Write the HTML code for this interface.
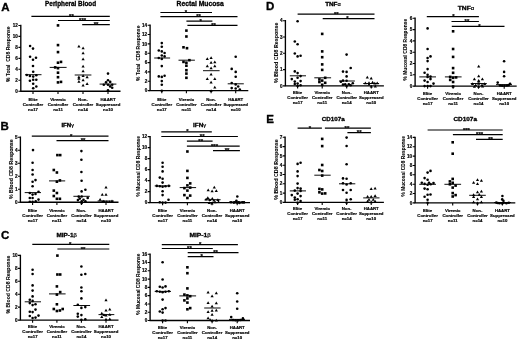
<!DOCTYPE html>
<html><head><meta charset="utf-8"><title>Figure</title>
<style>
html,body{margin:0;padding:0;background:#fff;}
body{width:520px;height:341px;overflow:hidden;}
svg{display:block;filter:blur(0.28px);}
svg text{font-family:"Liberation Sans",sans-serif;font-weight:bold;fill:#000;stroke:#000;stroke-width:0.18px;}
svg text.T,svg text.L{stroke-width:0.3px;}
svg text .G{font-weight:normal;stroke-width:0.2px;font-size:0.9em;}
svg text.Y{stroke-width:0.08px;}
</style></head><body>
<svg width="520" height="341" viewBox="0 0 520 341">
<rect x="-5" y="-5" width="530" height="351" fill="#fff"/>
<path d="M20.8 24.75V91.25H120.5" fill="none" stroke="#000" stroke-width="1.35" stroke-linejoin="miter"/>
<text x="17.9" y="92.91" font-size="4.6" text-anchor="end">0</text>
<text x="17.9" y="81.94" font-size="4.6" text-anchor="end">2</text>
<text x="17.9" y="70.97" font-size="4.6" text-anchor="end">4</text>
<text x="17.9" y="60" font-size="4.6" text-anchor="end">6</text>
<text x="17.9" y="49.03" font-size="4.6" text-anchor="end">8</text>
<text x="17.9" y="38.06" font-size="4.6" text-anchor="end">10</text>
<text x="17.9" y="27.09" font-size="4.6" text-anchor="end">12</text>
<path d="M18.4 91.25H20.8M18.4 80.28H20.8M18.4 69.31H20.8M18.4 58.34H20.8M18.4 47.37H20.8M18.4 36.4H20.8M18.4 25.43H20.8M33 91.25V93.92M58 91.25V93.92M83 91.25V93.92M108 91.25V93.92" stroke="#000" stroke-width="1.1" fill="none"/>
<text transform="translate(8 54.2) rotate(-90)" class="Y" font-size="6.2" text-anchor="middle" y="2.23" textLength="55.7" lengthAdjust="spacingAndGlyphs" xml:space="preserve">% Total  CD8 Response</text>
<text class="T" x="70.6" y="6.4" font-size="6.53" text-anchor="middle" textLength="51" lengthAdjust="spacingAndGlyphs">Peripheral Blood</text>
<text class="L" transform="translate(1.2 10.6) scale(1.12 1)" font-size="10.3">A</text>
<text x="33" y="100.6" font-size="4.3" text-anchor="middle">Elite</text>
<text x="33" y="105.6" font-size="4.3" text-anchor="middle">Controller</text>
<text x="33" y="110.7" font-size="4.3" text-anchor="middle">n=17</text>
<text x="58" y="100.6" font-size="4.3" text-anchor="middle">Viremic</text>
<text x="58" y="105.6" font-size="4.3" text-anchor="middle">Controller</text>
<text x="58" y="110.7" font-size="4.3" text-anchor="middle">n=11</text>
<text x="83" y="100.6" font-size="4.3" text-anchor="middle">Non-</text>
<text x="83" y="105.6" font-size="4.3" text-anchor="middle">Controller</text>
<text x="83" y="110.7" font-size="4.3" text-anchor="middle">n=14</text>
<text x="108" y="100.6" font-size="4.3" text-anchor="middle">HAART</text>
<text x="108" y="105.6" font-size="4.3" text-anchor="middle">Suppressed</text>
<text x="108" y="110.7" font-size="4.3" text-anchor="middle">n=10</text>
<path d="M25.1 74.7H41.5M49.7 67.4H66.6M74.7 75H91.4M99.6 84.1H116.4" stroke="#000" stroke-width="0.95" fill="none"/>
<path d="M31.4 16.4H109.8M58 20.5H109.8M82.2 24.7H109.8" stroke="#000" stroke-width="1.2" fill="none"/>
<text x="71.4" y="18" font-size="6.0" text-anchor="middle">**</text>
<text x="82.6" y="22.1" font-size="6.0" text-anchor="middle">***</text>
<text x="96" y="26.3" font-size="6.0" text-anchor="middle">**</text>
<circle cx="30.1" cy="46" r="1.3"/>
<circle cx="33" cy="48.6" r="1.3"/>
<circle cx="30.1" cy="56.8" r="1.3"/>
<circle cx="36" cy="57.7" r="1.3"/>
<circle cx="33" cy="59.7" r="1.3"/>
<circle cx="33" cy="66" r="1.3"/>
<circle cx="33.2" cy="71.7" r="1.3"/>
<circle cx="26.8" cy="75" r="1.3"/>
<circle cx="29.9" cy="76" r="1.3"/>
<circle cx="36.3" cy="75.2" r="1.3"/>
<circle cx="33.2" cy="76.6" r="1.3"/>
<circle cx="29.9" cy="80.8" r="1.3"/>
<circle cx="33.2" cy="79.8" r="1.3"/>
<circle cx="36.3" cy="79.8" r="1.3"/>
<circle cx="33.2" cy="83.7" r="1.3"/>
<circle cx="36.3" cy="86.5" r="1.3"/>
<circle cx="33.2" cy="88.3" r="1.3"/>
<rect x="56.7" y="24.1" width="2.6" height="2.6"/>
<rect x="56.7" y="43.8" width="2.6" height="2.6"/>
<rect x="56.7" y="50.8" width="2.6" height="2.6"/>
<rect x="56.7" y="61.4" width="2.6" height="2.6"/>
<rect x="59.7" y="60.6" width="2.6" height="2.6"/>
<rect x="53.9" y="66.1" width="2.6" height="2.6"/>
<rect x="56.7" y="66.9" width="2.6" height="2.6"/>
<rect x="56.7" y="71.4" width="2.6" height="2.6"/>
<rect x="56.7" y="75.9" width="2.6" height="2.6"/>
<rect x="56.7" y="81.1" width="2.6" height="2.6"/>
<rect x="59.7" y="80.6" width="2.6" height="2.6"/>
<path d="M78.9 44.74L80.5 47.51H77.3Z"/>
<path d="M83.1 46.44L84.7 49.21H81.5Z"/>
<path d="M83.1 51.44L84.7 54.21H81.5Z"/>
<path d="M83.1 57.54L84.7 60.31H81.5Z"/>
<path d="M83.1 64.74L84.7 67.51H81.5Z"/>
<path d="M83.1 69.44L84.7 72.21H81.5Z"/>
<path d="M78.9 75.44L80.5 78.21H77.3Z"/>
<path d="M83.1 74.24L84.7 77.01H81.5Z"/>
<path d="M87.1 75.44L88.7 78.21H85.5Z"/>
<path d="M83.1 78.54L84.7 81.31H81.5Z"/>
<path d="M78.9 80.04L80.5 82.81H77.3Z"/>
<path d="M87.1 82.14L88.7 84.91H85.5Z"/>
<path d="M83.1 83.74L84.7 86.51H81.5Z"/>
<path d="M78.9 76.94L80.5 79.71H77.3Z"/>
<circle cx="108" cy="73.6" r="1.3"/>
<circle cx="108" cy="80.2" r="1.3"/>
<circle cx="106" cy="82.4" r="1.3"/>
<circle cx="110.2" cy="81.9" r="1.3"/>
<circle cx="103.8" cy="84.8" r="1.3"/>
<circle cx="108" cy="84.8" r="1.3"/>
<circle cx="112.2" cy="84.8" r="1.3"/>
<circle cx="110.2" cy="86.4" r="1.3"/>
<circle cx="112.2" cy="87.8" r="1.3"/>
<circle cx="108" cy="90.3" r="1.3"/>
<path d="M150.1 24.54V90.6H248.3" fill="none" stroke="#000" stroke-width="1.35" stroke-linejoin="miter"/>
<text x="147.2" y="92.26" font-size="4.6" text-anchor="end">0</text>
<text x="147.2" y="82.92" font-size="4.6" text-anchor="end">2</text>
<text x="147.2" y="73.58" font-size="4.6" text-anchor="end">4</text>
<text x="147.2" y="64.24" font-size="4.6" text-anchor="end">6</text>
<text x="147.2" y="54.9" font-size="4.6" text-anchor="end">8</text>
<text x="147.2" y="45.56" font-size="4.6" text-anchor="end">10</text>
<text x="147.2" y="36.22" font-size="4.6" text-anchor="end">12</text>
<text x="147.2" y="26.88" font-size="4.6" text-anchor="end">14</text>
<path d="M147.7 90.6H150.1M147.7 81.26H150.1M147.7 71.92H150.1M147.7 62.58H150.1M147.7 53.24H150.1M147.7 43.9H150.1M147.7 34.56H150.1M147.7 25.22H150.1M161.8 90.6V93.27M186.4 90.6V93.27M211.1 90.6V93.27M235.7 90.6V93.27" stroke="#000" stroke-width="1.1" fill="none"/>
<text transform="translate(137.3 53.3) rotate(-90)" class="Y" font-size="6.2" text-anchor="middle" y="2.23" textLength="55.4" lengthAdjust="spacingAndGlyphs" xml:space="preserve">% Total  CD8 Response</text>
<text class="T" x="200.2" y="6.4" font-size="6.72" text-anchor="middle" textLength="47.4" lengthAdjust="spacingAndGlyphs">Rectal Mucosa</text>
<text x="161.8" y="100.55" font-size="4.3" text-anchor="middle">Elite</text>
<text x="161.8" y="105.55" font-size="4.3" text-anchor="middle">Controller</text>
<text x="161.8" y="110.65" font-size="4.3" text-anchor="middle">n=17</text>
<text x="186.4" y="100.55" font-size="4.3" text-anchor="middle">Viremic</text>
<text x="186.4" y="105.55" font-size="4.3" text-anchor="middle">Controller</text>
<text x="186.4" y="110.65" font-size="4.3" text-anchor="middle">n=11</text>
<text x="211.1" y="100.55" font-size="4.3" text-anchor="middle">Non-</text>
<text x="211.1" y="105.55" font-size="4.3" text-anchor="middle">Controller</text>
<text x="211.1" y="110.65" font-size="4.3" text-anchor="middle">n=14</text>
<text x="235.7" y="100.55" font-size="4.3" text-anchor="middle">HAART</text>
<text x="235.7" y="105.55" font-size="4.3" text-anchor="middle">Suppressed</text>
<text x="235.7" y="110.65" font-size="4.3" text-anchor="middle">n=10</text>
<path d="M154.2 58H170.1M178.5 60.2H194.9M203 70.7H219.6M227.7 83.8H243.8" stroke="#000" stroke-width="0.95" fill="none"/>
<path d="M160.4 12.5H212M160.4 16.7H237.5M186.4 21.2H212.4M187.4 25.4H237.5" stroke="#000" stroke-width="1.2" fill="none"/>
<text x="186" y="14.1" font-size="6.0" text-anchor="middle">*</text>
<text x="198.6" y="18.3" font-size="6.0" text-anchor="middle">**</text>
<text x="200.6" y="22.8" font-size="6.0" text-anchor="middle">*</text>
<text x="213.6" y="27" font-size="6.0" text-anchor="middle">**</text>
<circle cx="161.8" cy="43.1" r="1.3"/>
<circle cx="161.8" cy="46.8" r="1.3"/>
<circle cx="158.8" cy="50.5" r="1.3"/>
<circle cx="161.8" cy="51.4" r="1.3"/>
<circle cx="164.6" cy="53" r="1.3"/>
<circle cx="161.8" cy="55.5" r="1.3"/>
<circle cx="164.6" cy="56.4" r="1.3"/>
<circle cx="158.8" cy="58" r="1.3"/>
<circle cx="161.8" cy="58.9" r="1.3"/>
<circle cx="161.8" cy="66.1" r="1.3"/>
<circle cx="158.8" cy="76.4" r="1.3"/>
<circle cx="161.8" cy="76.9" r="1.3"/>
<circle cx="164.6" cy="75.8" r="1.3"/>
<circle cx="161.8" cy="81.1" r="1.3"/>
<circle cx="161.8" cy="84.8" r="1.3"/>
<circle cx="161.8" cy="90.8" r="1.3"/>
<rect x="185.1" y="29.3" width="2.6" height="2.6"/>
<rect x="185.1" y="35.2" width="2.6" height="2.6"/>
<rect x="182.2" y="46" width="2.6" height="2.6"/>
<rect x="185.7" y="46.9" width="2.6" height="2.6"/>
<rect x="188.1" y="58.9" width="2.6" height="2.6"/>
<rect x="182.2" y="60.6" width="2.6" height="2.6"/>
<rect x="185.1" y="61.4" width="2.6" height="2.6"/>
<rect x="185.1" y="64.4" width="2.6" height="2.6"/>
<rect x="185.1" y="68.9" width="2.6" height="2.6"/>
<rect x="185.1" y="72.3" width="2.6" height="2.6"/>
<rect x="185.1" y="76.5" width="2.6" height="2.6"/>
<path d="M207.3 57.34L208.9 60.11H205.7Z"/>
<path d="M211.1 56.34L212.7 59.11H209.5Z"/>
<path d="M211.1 61.04L212.7 63.81H209.5Z"/>
<path d="M214.8 60.54L216.4 63.31H213.2Z"/>
<path d="M207.3 64.44L208.9 67.21H205.7Z"/>
<path d="M214.8 64.44L216.4 67.21H213.2Z"/>
<path d="M211.1 66.44L212.7 69.21H209.5Z"/>
<path d="M211.1 72.74L212.7 75.51H209.5Z"/>
<path d="M207.3 77.34L208.9 80.11H205.7Z"/>
<path d="M214.8 77.34L216.4 80.11H213.2Z"/>
<path d="M211.1 80.84L212.7 83.61H209.5Z"/>
<path d="M214.8 85.84L216.4 88.61H213.2Z"/>
<path d="M211.1 89.14L212.7 91.91H209.5Z"/>
<circle cx="235.7" cy="56.7" r="1.3"/>
<circle cx="231.7" cy="68.9" r="1.3"/>
<circle cx="235.7" cy="71.9" r="1.3"/>
<circle cx="235.7" cy="76.8" r="1.3"/>
<circle cx="231.7" cy="83" r="1.3"/>
<circle cx="235.7" cy="84.4" r="1.3"/>
<circle cx="238.2" cy="86.5" r="1.3"/>
<circle cx="231.7" cy="88.1" r="1.3"/>
<circle cx="235.7" cy="88.5" r="1.3"/>
<circle cx="239.8" cy="89.5" r="1.3"/>
<path d="M20.4 136.52V202.2H118.5" fill="none" stroke="#000" stroke-width="1.35" stroke-linejoin="miter"/>
<text x="17.5" y="203.86" font-size="4.6" text-anchor="end">0</text>
<text x="17.5" y="190.86" font-size="4.6" text-anchor="end">1</text>
<text x="17.5" y="177.86" font-size="4.6" text-anchor="end">2</text>
<text x="17.5" y="164.86" font-size="4.6" text-anchor="end">3</text>
<text x="17.5" y="151.86" font-size="4.6" text-anchor="end">4</text>
<text x="17.5" y="138.86" font-size="4.6" text-anchor="end">5</text>
<path d="M18 202.2H20.4M18 189.2H20.4M18 176.2H20.4M18 163.2H20.4M18 150.2H20.4M18 137.2H20.4M32.6 202.2V204.88M56.9 202.2V204.88M81.4 202.2V204.88M106 202.2V204.88" stroke="#000" stroke-width="1.1" fill="none"/>
<text transform="translate(10.6 169.2) rotate(-90)" class="Y" font-size="6.2" text-anchor="middle" y="2.23" textLength="59.7" lengthAdjust="spacingAndGlyphs" xml:space="preserve">% Blood CD8 Response</text>
<text class="T" x="67.7" y="127.2" font-size="5.15" text-anchor="middle" textLength="12.5" lengthAdjust="spacingAndGlyphs">IFN<tspan class="G">γ</tspan></text>
<text class="L" transform="translate(0.6 130.2) scale(1.12 1)" font-size="10.3">B</text>
<text x="32.6" y="211.55" font-size="4.3" text-anchor="middle">Elite</text>
<text x="32.6" y="216.55" font-size="4.3" text-anchor="middle">Controller</text>
<text x="32.6" y="221.65" font-size="4.3" text-anchor="middle">n=17</text>
<text x="56.9" y="211.55" font-size="4.3" text-anchor="middle">Viremic</text>
<text x="56.9" y="216.55" font-size="4.3" text-anchor="middle">Controller</text>
<text x="56.9" y="221.65" font-size="4.3" text-anchor="middle">n=11</text>
<text x="81.4" y="211.55" font-size="4.3" text-anchor="middle">Non-</text>
<text x="81.4" y="216.55" font-size="4.3" text-anchor="middle">Controller</text>
<text x="81.4" y="221.65" font-size="4.3" text-anchor="middle">n=14</text>
<text x="106" y="211.55" font-size="4.3" text-anchor="middle">HAART</text>
<text x="106" y="216.55" font-size="4.3" text-anchor="middle">Suppressed</text>
<text x="106" y="221.65" font-size="4.3" text-anchor="middle">n=10</text>
<path d="M24.7 192.6H41M49 180.9H65.2M73.4 196.3H89.8M97.6 201H113.8" stroke="#000" stroke-width="0.95" fill="none"/>
<path d="M31.8 136.1H108.5M56.5 140.6H108.5" stroke="#000" stroke-width="1.2" fill="none"/>
<text x="71.1" y="137.7" font-size="6.0" text-anchor="middle">*</text>
<text x="83.1" y="142.2" font-size="6.0" text-anchor="middle">**</text>
<circle cx="33" cy="150.1" r="1.3"/>
<circle cx="32.6" cy="162.8" r="1.3"/>
<circle cx="32.6" cy="170" r="1.3"/>
<circle cx="32.6" cy="174.5" r="1.3"/>
<circle cx="35.5" cy="180.1" r="1.3"/>
<circle cx="32.6" cy="181.7" r="1.3"/>
<circle cx="32.6" cy="186.3" r="1.3"/>
<circle cx="38.5" cy="191.8" r="1.3"/>
<circle cx="29.8" cy="193" r="1.3"/>
<circle cx="32.6" cy="194.6" r="1.3"/>
<circle cx="35.5" cy="194" r="1.3"/>
<circle cx="29.8" cy="198" r="1.3"/>
<circle cx="32.6" cy="198" r="1.3"/>
<circle cx="38.5" cy="199.6" r="1.3"/>
<circle cx="35.7" cy="201.4" r="1.3"/>
<circle cx="29.8" cy="201.8" r="1.3"/>
<circle cx="32.6" cy="201.8" r="1.3"/>
<rect x="56.1" y="153.8" width="2.6" height="2.6"/>
<rect x="58.9" y="153.8" width="2.6" height="2.6"/>
<rect x="52.5" y="168.7" width="2.6" height="2.6"/>
<rect x="55.6" y="171.2" width="2.6" height="2.6"/>
<rect x="58.6" y="179.1" width="2.6" height="2.6"/>
<rect x="55.6" y="180.4" width="2.6" height="2.6"/>
<rect x="52.5" y="189.3" width="2.6" height="2.6"/>
<rect x="55.6" y="191.7" width="2.6" height="2.6"/>
<rect x="52.5" y="194.7" width="2.6" height="2.6"/>
<rect x="55.6" y="197.5" width="2.6" height="2.6"/>
<rect x="58.6" y="197.5" width="2.6" height="2.6"/>
<circle cx="81.4" cy="151.1" r="1.3"/>
<circle cx="81.4" cy="159.8" r="1.3"/>
<circle cx="81.4" cy="172" r="1.3"/>
<circle cx="81.6" cy="180.8" r="1.3"/>
<circle cx="81.6" cy="191.4" r="1.3"/>
<circle cx="85.4" cy="189.8" r="1.3"/>
<circle cx="78.7" cy="196.6" r="1.3"/>
<circle cx="81.7" cy="196.5" r="1.3"/>
<circle cx="87.7" cy="197.9" r="1.3"/>
<circle cx="79.8" cy="198.6" r="1.3"/>
<circle cx="77.9" cy="200.1" r="1.3"/>
<circle cx="83.5" cy="199.8" r="1.3"/>
<circle cx="85.4" cy="201.2" r="1.3"/>
<circle cx="81.7" cy="201.4" r="1.3"/>
<circle cx="81.7" cy="203.1" r="1.3"/>
<path d="M106 185.64L107.6 188.41H104.4Z"/>
<path d="M102.3 192.94L103.9 195.71H100.7Z"/>
<path d="M106 192.94L107.6 195.71H104.4Z"/>
<path d="M100.1 198.04L101.7 200.81H98.5Z"/>
<path d="M102.3 200.14L103.9 202.91H100.7Z"/>
<path d="M104.7 200.14L106.3 202.91H103.1Z"/>
<path d="M106.8 200.14L108.4 202.91H105.2Z"/>
<path d="M109.4 200.14L111 202.91H107.8Z"/>
<path d="M112 199.54L113.6 202.31H110.4Z"/>
<path d="M103.5 199.74L105.1 202.51H101.9Z"/>
<path d="M150.1 135.92V202.6H250" fill="none" stroke="#000" stroke-width="1.35" stroke-linejoin="miter"/>
<text x="147.2" y="204.26" font-size="4.6" text-anchor="end">0</text>
<text x="147.2" y="193.26" font-size="4.6" text-anchor="end">2</text>
<text x="147.2" y="182.26" font-size="4.6" text-anchor="end">4</text>
<text x="147.2" y="171.26" font-size="4.6" text-anchor="end">6</text>
<text x="147.2" y="160.26" font-size="4.6" text-anchor="end">8</text>
<text x="147.2" y="149.26" font-size="4.6" text-anchor="end">10</text>
<text x="147.2" y="138.26" font-size="4.6" text-anchor="end">12</text>
<path d="M147.7 202.6H150.1M147.7 191.6H150.1M147.7 180.6H150.1M147.7 169.6H150.1M147.7 158.6H150.1M147.7 147.6H150.1M147.7 136.6H150.1M162.6 202.6V205.28M187.4 202.6V205.28M212 202.6V205.28M237.2 202.6V205.28" stroke="#000" stroke-width="1.1" fill="none"/>
<text transform="translate(137.6 166.3) rotate(-90)" class="Y" font-size="6.2" text-anchor="middle" y="2.23" textLength="60.4" lengthAdjust="spacingAndGlyphs" xml:space="preserve">% Mucosal CD8 Response</text>
<text class="T" x="199.6" y="126.6" font-size="6.07" text-anchor="middle" textLength="13.3" lengthAdjust="spacingAndGlyphs">IFN<tspan class="G">γ</tspan></text>
<text x="162.6" y="211.6" font-size="4.3" text-anchor="middle">Elite</text>
<text x="162.6" y="216.6" font-size="4.3" text-anchor="middle">Controller</text>
<text x="162.6" y="221.7" font-size="4.3" text-anchor="middle">n=17</text>
<text x="187.4" y="211.6" font-size="4.3" text-anchor="middle">Viremic</text>
<text x="187.4" y="216.6" font-size="4.3" text-anchor="middle">Controller</text>
<text x="187.4" y="221.7" font-size="4.3" text-anchor="middle">n=11</text>
<text x="212" y="211.6" font-size="4.3" text-anchor="middle">Non-</text>
<text x="212" y="216.6" font-size="4.3" text-anchor="middle">Controller</text>
<text x="212" y="221.7" font-size="4.3" text-anchor="middle">n=14</text>
<text x="237.2" y="211.6" font-size="4.3" text-anchor="middle">HAART</text>
<text x="237.2" y="216.6" font-size="4.3" text-anchor="middle">Suppressed</text>
<text x="237.2" y="221.7" font-size="4.3" text-anchor="middle">n=10</text>
<path d="M154.7 185.9H170.6M179.7 187.6H196.1M204.7 199.7H220.6M229 202H245" stroke="#000" stroke-width="0.95" fill="none"/>
<path d="M161.3 131.8H211.8M161.3 136.5H237.9M186.9 141.2H212.6M186.9 146.2H239.7M213 150.7H239.9" stroke="#000" stroke-width="1.2" fill="none"/>
<text x="187.4" y="133.4" font-size="6.0" text-anchor="middle">*</text>
<text x="202.2" y="138.1" font-size="6.0" text-anchor="middle">**</text>
<text x="200.7" y="142.8" font-size="6.0" text-anchor="middle">**</text>
<text x="214.5" y="147.8" font-size="6.0" text-anchor="middle">***</text>
<text x="227.1" y="152.3" font-size="6.0" text-anchor="middle">**</text>
<circle cx="162.6" cy="162.8" r="1.3"/>
<circle cx="162.6" cy="166.8" r="1.3"/>
<circle cx="162.6" cy="171.4" r="1.3"/>
<circle cx="159.8" cy="177.6" r="1.3"/>
<circle cx="162.6" cy="178.7" r="1.3"/>
<circle cx="162.6" cy="182.6" r="1.3"/>
<circle cx="156.8" cy="185.9" r="1.3"/>
<circle cx="159.8" cy="186.3" r="1.3"/>
<circle cx="162.6" cy="186.8" r="1.3"/>
<circle cx="165.5" cy="186.3" r="1.3"/>
<circle cx="168.8" cy="185.9" r="1.3"/>
<circle cx="162.6" cy="191.3" r="1.3"/>
<circle cx="162.6" cy="195.1" r="1.3"/>
<circle cx="168.5" cy="199.8" r="1.3"/>
<circle cx="159.8" cy="202.2" r="1.3"/>
<circle cx="162.6" cy="202.6" r="1.3"/>
<circle cx="165.5" cy="202.6" r="1.3"/>
<rect x="186.1" y="150.2" width="2.6" height="2.6"/>
<rect x="186.1" y="169.6" width="2.6" height="2.6"/>
<rect x="186.1" y="176.6" width="2.6" height="2.6"/>
<rect x="188.9" y="182.1" width="2.6" height="2.6"/>
<rect x="186.1" y="184.1" width="2.6" height="2.6"/>
<rect x="183.1" y="186.8" width="2.6" height="2.6"/>
<rect x="186.1" y="189.3" width="2.6" height="2.6"/>
<rect x="183.1" y="193.8" width="2.6" height="2.6"/>
<rect x="188.9" y="194.3" width="2.6" height="2.6"/>
<rect x="186.1" y="196.7" width="2.6" height="2.6"/>
<rect x="188.9" y="186.3" width="2.6" height="2.6"/>
<path d="M214.3 185.84L215.9 188.61H212.7Z"/>
<path d="M208.2 188.54L209.8 191.31H206.6Z"/>
<path d="M212.1 189.54L213.7 192.31H210.5Z"/>
<path d="M216.3 189.34L217.9 192.11H214.7Z"/>
<path d="M207.8 196.34L209.4 199.11H206.2Z"/>
<path d="M212.3 197.04L213.9 199.81H210.7Z"/>
<path d="M206.1 197.84L207.7 200.61H204.5Z"/>
<path d="M209.8 198.34L211.4 201.11H208.2Z"/>
<path d="M213.9 198.84L215.5 201.61H212.3Z"/>
<path d="M217.9 198.34L219.5 201.11H216.3Z"/>
<path d="M212 201.64L213.6 204.41H210.4Z"/>
<path d="M215 200.54L216.6 203.31H213.4Z"/>
<path d="M209.3 201.14L210.9 203.91H207.7Z"/>
<path d="M218.5 200.14L220.1 202.91H216.9Z"/>
<circle cx="237.3" cy="196.5" r="1.3"/>
<circle cx="236.4" cy="200.7" r="1.3"/>
<circle cx="231" cy="202.3" r="1.3"/>
<circle cx="233.8" cy="202.6" r="1.3"/>
<circle cx="237" cy="202.6" r="1.3"/>
<circle cx="239.5" cy="202.9" r="1.3"/>
<circle cx="242.3" cy="202.4" r="1.3"/>
<circle cx="235" cy="202.2" r="1.3"/>
<circle cx="238.6" cy="202.2" r="1.3"/>
<circle cx="244" cy="202.4" r="1.3"/>
<path d="M20.4 254.73V320.1H118.5" fill="none" stroke="#000" stroke-width="1.35" stroke-linejoin="miter"/>
<text x="17.5" y="321.76" font-size="4.6" text-anchor="end">0</text>
<text x="17.5" y="308.82" font-size="4.6" text-anchor="end">2</text>
<text x="17.5" y="295.88" font-size="4.6" text-anchor="end">4</text>
<text x="17.5" y="282.94" font-size="4.6" text-anchor="end">6</text>
<text x="17.5" y="270" font-size="4.6" text-anchor="end">8</text>
<text x="17.5" y="257.06" font-size="4.6" text-anchor="end">10</text>
<path d="M18 320.1H20.4M18 307.16H20.4M18 294.22H20.4M18 281.28H20.4M18 268.34H20.4M18 255.4H20.4M32.6 320.1V322.78M56.9 320.1V322.78M81.4 320.1V322.78M106 320.1V322.78" stroke="#000" stroke-width="1.1" fill="none"/>
<text transform="translate(7.6 284.6) rotate(-90)" class="Y" font-size="6.2" text-anchor="middle" y="2.23" textLength="58" lengthAdjust="spacingAndGlyphs" xml:space="preserve">% Blood CD8 Response</text>
<text class="T" x="66.7" y="236.5" font-size="5.7" text-anchor="middle" textLength="20.5" lengthAdjust="spacingAndGlyphs">MIP-1<tspan class="G">β</tspan></text>
<text class="L" transform="translate(0.9 239.4) scale(1.12 1)" font-size="10.3">C</text>
<text x="32.6" y="328.15" font-size="4.3" text-anchor="middle">Elite</text>
<text x="32.6" y="333.15" font-size="4.3" text-anchor="middle">Controller</text>
<text x="32.6" y="338.25" font-size="4.3" text-anchor="middle">n=17</text>
<text x="56.9" y="328.15" font-size="4.3" text-anchor="middle">Viremic</text>
<text x="56.9" y="333.15" font-size="4.3" text-anchor="middle">Controller</text>
<text x="56.9" y="338.25" font-size="4.3" text-anchor="middle">n=11</text>
<text x="81.4" y="328.15" font-size="4.3" text-anchor="middle">Non-</text>
<text x="81.4" y="333.15" font-size="4.3" text-anchor="middle">Controller</text>
<text x="81.4" y="338.25" font-size="4.3" text-anchor="middle">n=14</text>
<text x="106" y="328.15" font-size="4.3" text-anchor="middle">HAART</text>
<text x="106" y="333.15" font-size="4.3" text-anchor="middle">Suppressed</text>
<text x="106" y="338.25" font-size="4.3" text-anchor="middle">n=10</text>
<path d="M24.7 301.8H41M49 293.9H65.6M73.4 305.5H90.1M98.5 314.6H114.3" stroke="#000" stroke-width="0.95" fill="none"/>
<path d="M32.3 244.4H109.3M57.4 249H109.3" stroke="#000" stroke-width="1.2" fill="none"/>
<text x="70.2" y="246" font-size="6.0" text-anchor="middle">*</text>
<text x="83.1" y="250.6" font-size="6.0" text-anchor="middle">**</text>
<circle cx="32.6" cy="269.8" r="1.3"/>
<circle cx="32.6" cy="274" r="1.3"/>
<circle cx="32.6" cy="285.4" r="1.3"/>
<circle cx="32.6" cy="290.6" r="1.3"/>
<circle cx="32.6" cy="296.4" r="1.3"/>
<circle cx="29.8" cy="299.8" r="1.3"/>
<circle cx="32.6" cy="300.9" r="1.3"/>
<circle cx="29.8" cy="303.1" r="1.3"/>
<circle cx="35.5" cy="304.3" r="1.3"/>
<circle cx="32.6" cy="305.1" r="1.3"/>
<circle cx="35.5" cy="309.6" r="1.3"/>
<circle cx="29.8" cy="311.8" r="1.3"/>
<circle cx="32.6" cy="312.1" r="1.3"/>
<circle cx="29.8" cy="316" r="1.3"/>
<circle cx="38.5" cy="315.6" r="1.3"/>
<circle cx="32.6" cy="318" r="1.3"/>
<circle cx="35.5" cy="317.6" r="1.3"/>
<rect x="56.1" y="254.3" width="2.6" height="2.6"/>
<rect x="56.1" y="273.2" width="2.6" height="2.6"/>
<rect x="58.9" y="273.2" width="2.6" height="2.6"/>
<rect x="55.6" y="285.1" width="2.6" height="2.6"/>
<rect x="58.9" y="290.8" width="2.6" height="2.6"/>
<rect x="55.6" y="293.3" width="2.6" height="2.6"/>
<rect x="55.6" y="303" width="2.6" height="2.6"/>
<rect x="52.5" y="307.7" width="2.6" height="2.6"/>
<rect x="61.4" y="307.7" width="2.6" height="2.6"/>
<rect x="55.6" y="309.7" width="2.6" height="2.6"/>
<rect x="58.6" y="309.2" width="2.6" height="2.6"/>
<circle cx="81.4" cy="266.5" r="1.3"/>
<circle cx="81.4" cy="274.8" r="1.3"/>
<circle cx="85.3" cy="274" r="1.3"/>
<circle cx="81.4" cy="287.5" r="1.3"/>
<circle cx="81.4" cy="291.2" r="1.3"/>
<circle cx="81.4" cy="298.4" r="1.3"/>
<circle cx="77.8" cy="304.8" r="1.3"/>
<circle cx="81.4" cy="307.9" r="1.3"/>
<circle cx="85.3" cy="307.1" r="1.3"/>
<circle cx="77.8" cy="313.8" r="1.3"/>
<circle cx="81.4" cy="315.1" r="1.3"/>
<circle cx="77.8" cy="316.6" r="1.3"/>
<circle cx="81.4" cy="319.8" r="1.3"/>
<circle cx="85.3" cy="319.3" r="1.3"/>
<path d="M106 298.54L107.6 301.31H104.4Z"/>
<path d="M109.8 307.74L111.4 310.51H108.2Z"/>
<path d="M106 308.74L107.6 311.51H104.4Z"/>
<path d="M101.8 311.64L103.4 314.41H100.2Z"/>
<path d="M106 313.64L107.6 316.41H104.4Z"/>
<path d="M109.8 312.94L111.4 315.71H108.2Z"/>
<path d="M101.8 315.34L103.4 318.11H100.2Z"/>
<path d="M106 317.84L107.6 320.61H104.4Z"/>
<path d="M109.8 317.44L111.4 320.21H108.2Z"/>
<path d="M103.9 313.24L105.5 316.01H102.3Z"/>
<path d="M150.1 253.58V320.5H250" fill="none" stroke="#000" stroke-width="1.35" stroke-linejoin="miter"/>
<text x="147.2" y="322.16" font-size="4.6" text-anchor="end">0</text>
<text x="147.2" y="313.88" font-size="4.6" text-anchor="end">2</text>
<text x="147.2" y="305.6" font-size="4.6" text-anchor="end">4</text>
<text x="147.2" y="297.32" font-size="4.6" text-anchor="end">6</text>
<text x="147.2" y="289.04" font-size="4.6" text-anchor="end">8</text>
<text x="147.2" y="280.76" font-size="4.6" text-anchor="end">10</text>
<text x="147.2" y="272.48" font-size="4.6" text-anchor="end">12</text>
<text x="147.2" y="264.2" font-size="4.6" text-anchor="end">14</text>
<text x="147.2" y="255.92" font-size="4.6" text-anchor="end">16</text>
<path d="M147.7 320.5H150.1M147.7 312.22H150.1M147.7 303.94H150.1M147.7 295.66H150.1M147.7 287.38H150.1M147.7 279.1H150.1M147.7 270.82H150.1M147.7 262.54H150.1M147.7 254.26H150.1M162.6 320.5V323.18M187.4 320.5V323.18M212.1 320.5V323.18M237.2 320.5V323.18" stroke="#000" stroke-width="1.1" fill="none"/>
<text transform="translate(137.3 284.2) rotate(-90)" class="Y" font-size="6.2" text-anchor="middle" y="2.23" textLength="61.2" lengthAdjust="spacingAndGlyphs" xml:space="preserve">% Mucosal CD8 Response</text>
<text class="T" x="200" y="236.5" font-size="5.89" text-anchor="middle" textLength="21.2" lengthAdjust="spacingAndGlyphs">MIP-1<tspan class="G">β</tspan></text>
<text x="162.6" y="329.15" font-size="4.3" text-anchor="middle">Elite</text>
<text x="162.6" y="334.15" font-size="4.3" text-anchor="middle">Controller</text>
<text x="162.6" y="339.25" font-size="4.3" text-anchor="middle">n=17</text>
<text x="187.4" y="329.15" font-size="4.3" text-anchor="middle">Viremic</text>
<text x="187.4" y="334.15" font-size="4.3" text-anchor="middle">Controller</text>
<text x="187.4" y="339.25" font-size="4.3" text-anchor="middle">n=11</text>
<text x="212.1" y="329.15" font-size="4.3" text-anchor="middle">Non-</text>
<text x="212.1" y="334.15" font-size="4.3" text-anchor="middle">Controller</text>
<text x="212.1" y="339.25" font-size="4.3" text-anchor="middle">n=14</text>
<text x="237.2" y="329.15" font-size="4.3" text-anchor="middle">HAART</text>
<text x="237.2" y="334.15" font-size="4.3" text-anchor="middle">Suppressed</text>
<text x="237.2" y="339.25" font-size="4.3" text-anchor="middle">n=10</text>
<path d="M154.7 291.4H171M179.3 295.9H196.1M204.2 308H220.6M229 319.4H245" stroke="#000" stroke-width="0.95" fill="none"/>
<path d="M161.8 244.6H237.9M161.8 248.5H212.8M187.7 252.7H238.5M187.7 256.6H213.5" stroke="#000" stroke-width="1.2" fill="none"/>
<text x="200.1" y="246.2" font-size="6.0" text-anchor="middle">*</text>
<text x="189.4" y="250.1" font-size="6.0" text-anchor="middle">**</text>
<text x="215.5" y="254.3" font-size="6.0" text-anchor="middle">**</text>
<text x="201.7" y="258.2" font-size="6.0" text-anchor="middle">*</text>
<circle cx="162.6" cy="262.3" r="1.3"/>
<circle cx="162.6" cy="279.5" r="1.3"/>
<circle cx="159.8" cy="286.7" r="1.3"/>
<circle cx="162.6" cy="287.5" r="1.3"/>
<circle cx="165.5" cy="286.4" r="1.3"/>
<circle cx="156.8" cy="291.2" r="1.3"/>
<circle cx="159.8" cy="291.7" r="1.3"/>
<circle cx="162.6" cy="292.2" r="1.3"/>
<circle cx="165.5" cy="291.7" r="1.3"/>
<circle cx="168.8" cy="291.2" r="1.3"/>
<circle cx="162.6" cy="299.6" r="1.3"/>
<circle cx="162.6" cy="309.3" r="1.3"/>
<circle cx="165.5" cy="308.1" r="1.3"/>
<circle cx="159.8" cy="311.5" r="1.3"/>
<circle cx="162.6" cy="312.6" r="1.3"/>
<circle cx="162.6" cy="320.5" r="1.3"/>
<circle cx="165.5" cy="320.5" r="1.3"/>
<rect x="186.1" y="266" width="2.6" height="2.6"/>
<rect x="186.1" y="271.9" width="2.6" height="2.6"/>
<rect x="186.1" y="287.1" width="2.6" height="2.6"/>
<rect x="183.1" y="293.3" width="2.6" height="2.6"/>
<rect x="186.1" y="294.1" width="2.6" height="2.6"/>
<rect x="188.9" y="294.9" width="2.6" height="2.6"/>
<rect x="186.1" y="297.1" width="2.6" height="2.6"/>
<rect x="183.1" y="299.1" width="2.6" height="2.6"/>
<rect x="186.1" y="301.3" width="2.6" height="2.6"/>
<rect x="188.9" y="306.8" width="2.6" height="2.6"/>
<rect x="186.1" y="308" width="2.6" height="2.6"/>
<path d="M208.1 290.74L209.7 293.51H206.5Z"/>
<path d="M216.3 291.54L217.9 294.31H214.7Z"/>
<path d="M212.1 294.44L213.7 297.21H210.5Z"/>
<path d="M208.1 301.24L209.7 304.01H206.5Z"/>
<path d="M216.3 301.54L217.9 304.31H214.7Z"/>
<path d="M212.1 304.64L213.7 307.41H210.5Z"/>
<path d="M208.1 310.24L209.7 313.01H206.5Z"/>
<path d="M212.1 308.94L213.7 311.71H210.5Z"/>
<path d="M216.3 308.64L217.9 311.41H214.7Z"/>
<path d="M212.1 312.94L213.7 315.71H210.5Z"/>
<path d="M208.1 316.44L209.7 319.21H206.5Z"/>
<path d="M212.1 319.04L213.7 321.81H210.5Z"/>
<path d="M216.3 318.74L217.9 321.51H214.7Z"/>
<path d="M210.1 318.14L211.7 320.91H208.5Z"/>
<circle cx="237.2" cy="293.2" r="1.3"/>
<circle cx="237.2" cy="301.5" r="1.3"/>
<circle cx="237.2" cy="308.7" r="1.3"/>
<circle cx="231.2" cy="317.1" r="1.3"/>
<circle cx="233" cy="320" r="1.3"/>
<circle cx="235.5" cy="320.2" r="1.3"/>
<circle cx="238" cy="320.2" r="1.3"/>
<circle cx="240.5" cy="320" r="1.3"/>
<circle cx="243" cy="319.6" r="1.3"/>
<circle cx="242.9" cy="318.4" r="1.3"/>
<path d="M285.4 20.03V85.9H383.9" fill="none" stroke="#000" stroke-width="1.35" stroke-linejoin="miter"/>
<text x="282.5" y="87.56" font-size="4.6" text-anchor="end">0</text>
<text x="282.5" y="71.26" font-size="4.6" text-anchor="end">1</text>
<text x="282.5" y="54.96" font-size="4.6" text-anchor="end">2</text>
<text x="282.5" y="38.66" font-size="4.6" text-anchor="end">3</text>
<text x="282.5" y="22.36" font-size="4.6" text-anchor="end">4</text>
<path d="M283 85.9H285.4M283 69.6H285.4M283 53.3H285.4M283 37H285.4M283 20.7H285.4M297.6 85.9V88.58M322.2 85.9V88.58M346.7 85.9V88.58M371.3 85.9V88.58" stroke="#000" stroke-width="1.1" fill="none"/>
<text transform="translate(275.6 52.8) rotate(-90)" class="Y" font-size="6.2" text-anchor="middle" y="2.23" textLength="60.4" lengthAdjust="spacingAndGlyphs" xml:space="preserve">% Blood CD8 Response</text>
<text class="T" x="333" y="5.6" font-size="5.61" text-anchor="middle" textLength="15.6" lengthAdjust="spacingAndGlyphs">TNF<tspan class="G">α</tspan></text>
<text class="L" transform="translate(266 9.8) scale(1.12 1)" font-size="10.3">D</text>
<text x="297.6" y="94.25" font-size="4.3" text-anchor="middle">Elite</text>
<text x="297.6" y="99.25" font-size="4.3" text-anchor="middle">Controller</text>
<text x="297.6" y="104.35" font-size="4.3" text-anchor="middle">n=17</text>
<text x="322.2" y="94.25" font-size="4.3" text-anchor="middle">Viremic</text>
<text x="322.2" y="99.25" font-size="4.3" text-anchor="middle">Controller</text>
<text x="322.2" y="104.35" font-size="4.3" text-anchor="middle">n=11</text>
<text x="346.7" y="94.25" font-size="4.3" text-anchor="middle">Non-</text>
<text x="346.7" y="99.25" font-size="4.3" text-anchor="middle">Controller</text>
<text x="346.7" y="104.35" font-size="4.3" text-anchor="middle">n=14</text>
<text x="371.3" y="94.25" font-size="4.3" text-anchor="middle">HAART</text>
<text x="371.3" y="99.25" font-size="4.3" text-anchor="middle">Suppressed</text>
<text x="371.3" y="104.35" font-size="4.3" text-anchor="middle">n=10</text>
<path d="M289.8 75.8H306M314.3 77.8H331.1M339 81H354.9M363.2 83.5H379.1" stroke="#000" stroke-width="0.95" fill="none"/>
<path d="M297.6 14.2H374.5M322.7 18.6H374.5" stroke="#000" stroke-width="1.2" fill="none"/>
<text x="336.3" y="15.8" font-size="6.0" text-anchor="middle">**</text>
<text x="347.4" y="20.2" font-size="6.0" text-anchor="middle">*</text>
<circle cx="297.6" cy="21.2" r="1.3"/>
<circle cx="294.8" cy="41.5" r="1.3"/>
<circle cx="297.6" cy="44.3" r="1.3"/>
<circle cx="294.8" cy="53.5" r="1.3"/>
<circle cx="297.6" cy="56.4" r="1.3"/>
<circle cx="300.6" cy="55.7" r="1.3"/>
<circle cx="294.8" cy="71.4" r="1.3"/>
<circle cx="297.6" cy="73.1" r="1.3"/>
<circle cx="300.6" cy="76.1" r="1.3"/>
<circle cx="297.6" cy="77.8" r="1.3"/>
<circle cx="291.8" cy="79.1" r="1.3"/>
<circle cx="300.6" cy="81.1" r="1.3"/>
<circle cx="294.8" cy="81.6" r="1.3"/>
<circle cx="297.6" cy="83.6" r="1.3"/>
<circle cx="294.8" cy="84" r="1.3"/>
<circle cx="297.6" cy="86.1" r="1.3"/>
<circle cx="300.6" cy="85.3" r="1.3"/>
<rect x="320.9" y="32.6" width="2.6" height="2.6"/>
<rect x="320.9" y="50.1" width="2.6" height="2.6"/>
<rect x="320.9" y="55.9" width="2.6" height="2.6"/>
<rect x="320.9" y="63.1" width="2.6" height="2.6"/>
<rect x="320.9" y="68.6" width="2.6" height="2.6"/>
<rect x="323.9" y="76.5" width="2.6" height="2.6"/>
<rect x="318.1" y="78.1" width="2.6" height="2.6"/>
<rect x="320.9" y="79.3" width="2.6" height="2.6"/>
<rect x="318.1" y="80.7" width="2.6" height="2.6"/>
<rect x="323.9" y="81.5" width="2.6" height="2.6"/>
<rect x="320.9" y="83.5" width="2.6" height="2.6"/>
<circle cx="346.6" cy="54.6" r="1.3"/>
<circle cx="350.7" cy="68" r="1.3"/>
<circle cx="343" cy="71.6" r="1.3"/>
<circle cx="346.6" cy="71.9" r="1.3"/>
<circle cx="346.6" cy="76.4" r="1.3"/>
<circle cx="343" cy="80.6" r="1.3"/>
<circle cx="346.6" cy="80.7" r="1.3"/>
<circle cx="340.9" cy="81.7" r="1.3"/>
<circle cx="352.8" cy="83.2" r="1.3"/>
<circle cx="343" cy="84.6" r="1.3"/>
<circle cx="345.2" cy="84.3" r="1.3"/>
<circle cx="348.8" cy="84.2" r="1.3"/>
<circle cx="346.6" cy="86.1" r="1.3"/>
<circle cx="350.7" cy="85.3" r="1.3"/>
<path d="M367.3 75.74L368.9 78.51H365.7Z"/>
<path d="M371.2 76.74L372.8 79.51H369.6Z"/>
<path d="M365.4 81.54L367 84.31H363.8Z"/>
<path d="M369 81.24L370.6 84.01H367.4Z"/>
<path d="M372.6 80.84L374.2 83.61H371Z"/>
<path d="M374.8 81.84L376.4 84.61H373.2Z"/>
<path d="M377.2 81.54L378.8 84.31H375.6Z"/>
<path d="M371.3 84.84L372.9 87.61H369.7Z"/>
<path d="M375.3 84.84L376.9 87.61H373.7Z"/>
<path d="M369 82.84L370.6 85.61H367.4Z"/>
<path d="M415.1 17.62V86.1H516.7" fill="none" stroke="#000" stroke-width="1.35" stroke-linejoin="miter"/>
<text x="412.2" y="87.76" font-size="4.6" text-anchor="end">0</text>
<text x="412.2" y="76.46" font-size="4.6" text-anchor="end">1</text>
<text x="412.2" y="65.16" font-size="4.6" text-anchor="end">2</text>
<text x="412.2" y="53.86" font-size="4.6" text-anchor="end">3</text>
<text x="412.2" y="42.56" font-size="4.6" text-anchor="end">4</text>
<text x="412.2" y="31.26" font-size="4.6" text-anchor="end">5</text>
<text x="412.2" y="19.96" font-size="4.6" text-anchor="end">6</text>
<path d="M412.7 86.1H415.1M412.7 74.8H415.1M412.7 63.5H415.1M412.7 52.2H415.1M412.7 40.9H415.1M412.7 29.6H415.1M412.7 18.3H415.1M427.6 86.1V88.77M453.1 86.1V88.77M478.5 86.1V88.77M504.2 86.1V88.77" stroke="#000" stroke-width="1.1" fill="none"/>
<text transform="translate(405.1 49.7) rotate(-90)" class="Y" font-size="6.2" text-anchor="middle" y="2.23" textLength="61.7" lengthAdjust="spacingAndGlyphs" xml:space="preserve">% Mucosal CD8 Response</text>
<text class="T" x="466" y="10.1" font-size="6.07" text-anchor="middle" textLength="16.6" lengthAdjust="spacingAndGlyphs">TNF<tspan class="G">α</tspan></text>
<text x="427.6" y="95.15" font-size="4.3" text-anchor="middle">Elite</text>
<text x="427.6" y="100.15" font-size="4.3" text-anchor="middle">Controller</text>
<text x="427.6" y="105.25" font-size="4.3" text-anchor="middle">n=17</text>
<text x="453.1" y="95.15" font-size="4.3" text-anchor="middle">Viremic</text>
<text x="453.1" y="100.15" font-size="4.3" text-anchor="middle">Controller</text>
<text x="453.1" y="105.25" font-size="4.3" text-anchor="middle">n=11</text>
<text x="478.5" y="95.15" font-size="4.3" text-anchor="middle">Non-</text>
<text x="478.5" y="100.15" font-size="4.3" text-anchor="middle">Controller</text>
<text x="478.5" y="105.25" font-size="4.3" text-anchor="middle">n=14</text>
<text x="504.2" y="95.15" font-size="4.3" text-anchor="middle">HAART</text>
<text x="504.2" y="100.15" font-size="4.3" text-anchor="middle">Suppressed</text>
<text x="504.2" y="105.25" font-size="4.3" text-anchor="middle">n=10</text>
<path d="M419.3 76.9H436M444.9 76.9H461.6M470.7 83.5H486.8M496 84.6H512" stroke="#000" stroke-width="0.95" fill="none"/>
<path d="M426.8 16.6H478.9M451.5 21.5H478.9M451.8 26.4H504.5" stroke="#000" stroke-width="1.2" fill="none"/>
<text x="453.4" y="18.2" font-size="6.0" text-anchor="middle">*</text>
<text x="466.9" y="23.1" font-size="6.0" text-anchor="middle">**</text>
<text x="479.3" y="28" font-size="6.0" text-anchor="middle">*</text>
<circle cx="427.6" cy="28.4" r="1.3"/>
<circle cx="427.6" cy="49" r="1.3"/>
<circle cx="430.5" cy="56.4" r="1.3"/>
<circle cx="427.6" cy="58" r="1.3"/>
<circle cx="427.6" cy="61.1" r="1.3"/>
<circle cx="427.6" cy="69.1" r="1.3"/>
<circle cx="424.6" cy="72.8" r="1.3"/>
<circle cx="427.6" cy="74.8" r="1.3"/>
<circle cx="427.6" cy="76.9" r="1.3"/>
<circle cx="430.5" cy="76.6" r="1.3"/>
<circle cx="430.5" cy="79.1" r="1.3"/>
<circle cx="424.6" cy="80.6" r="1.3"/>
<circle cx="427.6" cy="82" r="1.3"/>
<circle cx="433.5" cy="83.6" r="1.3"/>
<circle cx="424.6" cy="86.1" r="1.3"/>
<circle cx="427.6" cy="86.1" r="1.3"/>
<circle cx="430.5" cy="86.1" r="1.3"/>
<rect x="451.8" y="30" width="2.6" height="2.6"/>
<rect x="451.8" y="47.7" width="2.6" height="2.6"/>
<rect x="451.8" y="55.6" width="2.6" height="2.6"/>
<rect x="451.8" y="66.8" width="2.6" height="2.6"/>
<rect x="451.8" y="71.5" width="2.6" height="2.6"/>
<rect x="448.9" y="75.6" width="2.6" height="2.6"/>
<rect x="451.8" y="76.5" width="2.6" height="2.6"/>
<rect x="454.8" y="76.1" width="2.6" height="2.6"/>
<rect x="448.9" y="78.6" width="2.6" height="2.6"/>
<rect x="451.8" y="80.7" width="2.6" height="2.6"/>
<rect x="451.8" y="85.2" width="2.6" height="2.6"/>
<path d="M478.7 64.84L480.3 67.61H477.1Z"/>
<path d="M478.7 74.44L480.3 77.21H477.1Z"/>
<path d="M474.4 77.54L476 80.31H472.8Z"/>
<path d="M482.4 77.54L484 80.31H480.8Z"/>
<path d="M478.7 79.74L480.3 82.51H477.1Z"/>
<path d="M478.7 79.04L480.3 81.81H477.1Z"/>
<path d="M472.5 82.34L474.1 85.11H470.9Z"/>
<path d="M475.7 83.44L477.3 86.21H474.1Z"/>
<path d="M478.7 82.04L480.3 84.81H477.1Z"/>
<path d="M482 83.44L483.6 86.21H480.4Z"/>
<path d="M484.7 82.34L486.3 85.11H483.1Z"/>
<path d="M478.7 85.04L480.3 87.81H477.1Z"/>
<path d="M474.4 85.04L476 87.81H472.8Z"/>
<path d="M482.6 84.84L484.2 87.61H481Z"/>
<circle cx="504.1" cy="61.3" r="1.3"/>
<circle cx="504.1" cy="71.9" r="1.3"/>
<circle cx="504.1" cy="76.2" r="1.3"/>
<circle cx="497.7" cy="82.6" r="1.3"/>
<circle cx="510.1" cy="83.7" r="1.3"/>
<circle cx="500" cy="85.5" r="1.3"/>
<circle cx="502.2" cy="85.7" r="1.3"/>
<circle cx="504.5" cy="85.7" r="1.3"/>
<circle cx="506.9" cy="85.5" r="1.3"/>
<circle cx="508.7" cy="85.1" r="1.3"/>
<path d="M285.1 136.62V202.4H383.9" fill="none" stroke="#000" stroke-width="1.35" stroke-linejoin="miter"/>
<text x="282.2" y="204.06" font-size="4.6" text-anchor="end">0</text>
<text x="282.2" y="194.76" font-size="4.6" text-anchor="end">1</text>
<text x="282.2" y="185.46" font-size="4.6" text-anchor="end">2</text>
<text x="282.2" y="176.16" font-size="4.6" text-anchor="end">3</text>
<text x="282.2" y="166.86" font-size="4.6" text-anchor="end">4</text>
<text x="282.2" y="157.56" font-size="4.6" text-anchor="end">5</text>
<text x="282.2" y="148.26" font-size="4.6" text-anchor="end">6</text>
<text x="282.2" y="138.96" font-size="4.6" text-anchor="end">7</text>
<path d="M282.7 202.4H285.1M282.7 193.1H285.1M282.7 183.8H285.1M282.7 174.5H285.1M282.7 165.2H285.1M282.7 155.9H285.1M282.7 146.6H285.1M282.7 137.3H285.1M297.6 202.4V205.08M322.2 202.4V205.08M346.6 202.4V205.08M371.2 202.4V205.08" stroke="#000" stroke-width="1.1" fill="none"/>
<text transform="translate(275.6 169.6) rotate(-90)" class="Y" font-size="6.2" text-anchor="middle" y="2.23" textLength="60.5" lengthAdjust="spacingAndGlyphs" xml:space="preserve">% Blood CD8 Response</text>
<text class="T" x="333.3" y="120.7" font-size="5.7" text-anchor="middle" textLength="22.9" lengthAdjust="spacingAndGlyphs">CD107a</text>
<text class="L" transform="translate(266.2 122.8) scale(1.12 1)" font-size="10.3">E</text>
<text x="297.6" y="210.05" font-size="4.3" text-anchor="middle">Elite</text>
<text x="297.6" y="215.05" font-size="4.3" text-anchor="middle">Controller</text>
<text x="297.6" y="220.15" font-size="4.3" text-anchor="middle">n=17</text>
<text x="322.2" y="210.05" font-size="4.3" text-anchor="middle">Viremic</text>
<text x="322.2" y="215.05" font-size="4.3" text-anchor="middle">Controller</text>
<text x="322.2" y="220.15" font-size="4.3" text-anchor="middle">n=11</text>
<text x="346.6" y="210.05" font-size="4.3" text-anchor="middle">Non-</text>
<text x="346.6" y="215.05" font-size="4.3" text-anchor="middle">Controller</text>
<text x="346.6" y="220.15" font-size="4.3" text-anchor="middle">n=14</text>
<text x="371.2" y="210.05" font-size="4.3" text-anchor="middle">HAART</text>
<text x="371.2" y="215.05" font-size="4.3" text-anchor="middle">Suppressed</text>
<text x="371.2" y="220.15" font-size="4.3" text-anchor="middle">n=10</text>
<path d="M289.8 190.9H306M314.3 175.2H330.7M339 183.8H355.3M363.2 197.9H379.5" stroke="#000" stroke-width="0.95" fill="none"/>
<path d="M297.6 128.1H321.9M324.9 128.2H370.9M347.4 132.6H370.9" stroke="#000" stroke-width="1.2" fill="none"/>
<text x="309.8" y="129.7" font-size="6.0" text-anchor="middle">*</text>
<text x="346.9" y="129.8" font-size="6.0" text-anchor="middle">**</text>
<text x="359.2" y="134.2" font-size="6.0" text-anchor="middle">**</text>
<circle cx="297.6" cy="163.9" r="1.3"/>
<circle cx="300.6" cy="162.7" r="1.3"/>
<circle cx="297.6" cy="171.4" r="1.3"/>
<circle cx="297.6" cy="176.1" r="1.3"/>
<circle cx="297.6" cy="183.6" r="1.3"/>
<circle cx="297.6" cy="188.1" r="1.3"/>
<circle cx="300.6" cy="188.6" r="1.3"/>
<circle cx="294.8" cy="190.6" r="1.3"/>
<circle cx="300.6" cy="190.9" r="1.3"/>
<circle cx="297.6" cy="193.6" r="1.3"/>
<circle cx="291.8" cy="195.1" r="1.3"/>
<circle cx="300.6" cy="196.1" r="1.3"/>
<circle cx="294.8" cy="197.6" r="1.3"/>
<circle cx="297.6" cy="199.3" r="1.3"/>
<circle cx="294.8" cy="199.8" r="1.3"/>
<circle cx="300.6" cy="201.1" r="1.3"/>
<circle cx="297.6" cy="202.8" r="1.3"/>
<rect x="320.9" y="137.6" width="2.6" height="2.6"/>
<rect x="320.9" y="144.8" width="2.6" height="2.6"/>
<rect x="320.9" y="163.7" width="2.6" height="2.6"/>
<rect x="318.1" y="168.7" width="2.6" height="2.6"/>
<rect x="320.9" y="169.7" width="2.6" height="2.6"/>
<rect x="320.9" y="174.3" width="2.6" height="2.6"/>
<rect x="318.1" y="187.6" width="2.6" height="2.6"/>
<rect x="320.9" y="188.1" width="2.6" height="2.6"/>
<rect x="318.1" y="191" width="2.6" height="2.6"/>
<rect x="320.9" y="192.3" width="2.6" height="2.6"/>
<rect x="323.9" y="192.1" width="2.6" height="2.6"/>
<circle cx="346.6" cy="137.6" r="1.3"/>
<circle cx="346.6" cy="146" r="1.3"/>
<circle cx="346.6" cy="164.3" r="1.3"/>
<circle cx="343" cy="178.4" r="1.3"/>
<circle cx="346.6" cy="178.7" r="1.3"/>
<circle cx="343" cy="183.3" r="1.3"/>
<circle cx="346.6" cy="184.5" r="1.3"/>
<circle cx="350.7" cy="183.3" r="1.3"/>
<circle cx="343" cy="190" r="1.3"/>
<circle cx="350.7" cy="190" r="1.3"/>
<circle cx="346.6" cy="192.7" r="1.3"/>
<circle cx="346.6" cy="199.9" r="1.3"/>
<circle cx="350.7" cy="199.2" r="1.3"/>
<circle cx="346.6" cy="202.8" r="1.3"/>
<path d="M371.2 187.14L372.8 189.91H369.6Z"/>
<path d="M375.1 186.84L376.7 189.61H373.5Z"/>
<path d="M367.6 195.04L369.2 197.81H366Z"/>
<path d="M371.2 195.04L372.8 197.81H369.6Z"/>
<path d="M375.1 194.34L376.7 197.11H373.5Z"/>
<path d="M369 197.94L370.6 200.71H367.4Z"/>
<path d="M373.3 197.94L374.9 200.71H371.7Z"/>
<path d="M367.6 199.74L369.2 202.51H366Z"/>
<path d="M371.2 200.54L372.8 203.31H369.6Z"/>
<path d="M375.1 199.74L376.7 202.51H373.5Z"/>
<path d="M415.1 136.7V202.9H515.3" fill="none" stroke="#000" stroke-width="1.35" stroke-linejoin="miter"/>
<text x="412.2" y="204.56" font-size="4.6" text-anchor="end">0</text>
<text x="412.2" y="195.2" font-size="4.6" text-anchor="end">2</text>
<text x="412.2" y="185.84" font-size="4.6" text-anchor="end">4</text>
<text x="412.2" y="176.48" font-size="4.6" text-anchor="end">6</text>
<text x="412.2" y="167.12" font-size="4.6" text-anchor="end">8</text>
<text x="412.2" y="157.76" font-size="4.6" text-anchor="end">10</text>
<text x="412.2" y="148.4" font-size="4.6" text-anchor="end">12</text>
<text x="412.2" y="139.04" font-size="4.6" text-anchor="end">14</text>
<path d="M412.7 202.9H415.1M412.7 193.54H415.1M412.7 184.18H415.1M412.7 174.82H415.1M412.7 165.46H415.1M412.7 156.1H415.1M412.7 146.74H415.1M412.7 137.38H415.1M427.6 202.9V205.58M452.7 202.9V205.58M477.5 202.9V205.58M502.4 202.9V205.58" stroke="#000" stroke-width="1.1" fill="none"/>
<text transform="translate(403.1 166.3) rotate(-90)" class="Y" font-size="6.2" text-anchor="middle" y="2.23" textLength="60.4" lengthAdjust="spacingAndGlyphs" xml:space="preserve">% Mucosal CD8 Response</text>
<text class="T" x="465.2" y="120.7" font-size="5.89" text-anchor="middle" textLength="23.6" lengthAdjust="spacingAndGlyphs">CD107a</text>
<text x="427.6" y="212.05" font-size="4.3" text-anchor="middle">Elite</text>
<text x="427.6" y="217.05" font-size="4.3" text-anchor="middle">Controller</text>
<text x="427.6" y="222.15" font-size="4.3" text-anchor="middle">n=17</text>
<text x="452.7" y="212.05" font-size="4.3" text-anchor="middle">Viremic</text>
<text x="452.7" y="217.05" font-size="4.3" text-anchor="middle">Controller</text>
<text x="452.7" y="222.15" font-size="4.3" text-anchor="middle">n=11</text>
<text x="477.5" y="212.05" font-size="4.3" text-anchor="middle">Non-</text>
<text x="477.5" y="217.05" font-size="4.3" text-anchor="middle">Controller</text>
<text x="477.5" y="222.15" font-size="4.3" text-anchor="middle">n=14</text>
<text x="502.4" y="212.05" font-size="4.3" text-anchor="middle">HAART</text>
<text x="502.4" y="217.05" font-size="4.3" text-anchor="middle">Suppressed</text>
<text x="502.4" y="222.15" font-size="4.3" text-anchor="middle">n=10</text>
<path d="M419.3 184.3H436M444.4 184.3H461.1M469.2 195.3H485.8M494 202.5H511" stroke="#000" stroke-width="0.95" fill="none"/>
<path d="M427.6 130H502.7M452.9 134.7H502.7M476 139.4H502.7" stroke="#000" stroke-width="1.2" fill="none"/>
<text x="466.4" y="131.6" font-size="6.0" text-anchor="middle">***</text>
<text x="479.6" y="136.3" font-size="6.0" text-anchor="middle">***</text>
<text x="490.5" y="141" font-size="6.0" text-anchor="middle">**</text>
<circle cx="430.5" cy="170.9" r="1.3"/>
<circle cx="427.6" cy="172.6" r="1.3"/>
<circle cx="424.6" cy="178.1" r="1.3"/>
<circle cx="427.6" cy="179.7" r="1.3"/>
<circle cx="421.8" cy="182.8" r="1.3"/>
<circle cx="433.5" cy="183.1" r="1.3"/>
<circle cx="424.6" cy="183.9" r="1.3"/>
<circle cx="427.6" cy="184.8" r="1.3"/>
<circle cx="430.7" cy="184.3" r="1.3"/>
<circle cx="429" cy="182.7" r="1.3"/>
<circle cx="424.6" cy="188.6" r="1.3"/>
<circle cx="427.6" cy="189.3" r="1.3"/>
<circle cx="427.6" cy="194.8" r="1.3"/>
<circle cx="430.5" cy="194.5" r="1.3"/>
<circle cx="424.6" cy="196.8" r="1.3"/>
<circle cx="427.6" cy="199.8" r="1.3"/>
<circle cx="427.6" cy="202.8" r="1.3"/>
<rect x="451.4" y="141" width="2.6" height="2.6"/>
<rect x="451.4" y="152.4" width="2.6" height="2.6"/>
<rect x="451.4" y="177.6" width="2.6" height="2.6"/>
<rect x="448.6" y="180.1" width="2.6" height="2.6"/>
<rect x="451.4" y="181.5" width="2.6" height="2.6"/>
<rect x="448.6" y="183" width="2.6" height="2.6"/>
<rect x="454.3" y="184.3" width="2.6" height="2.6"/>
<rect x="451.4" y="186.3" width="2.6" height="2.6"/>
<rect x="451.4" y="191.8" width="2.6" height="2.6"/>
<rect x="454.3" y="193.8" width="2.6" height="2.6"/>
<rect x="451.4" y="195.2" width="2.6" height="2.6"/>
<path d="M477.5 178.24L479.1 181.01H475.9Z"/>
<path d="M481.4 178.94L483 181.71H479.8Z"/>
<path d="M473.6 180.94L475.2 183.71H472Z"/>
<path d="M477.5 182.34L479.1 185.11H475.9Z"/>
<path d="M481.4 189.64L483 192.41H479.8Z"/>
<path d="M477.5 190.44L479.1 193.21H475.9Z"/>
<path d="M473.6 193.34L475.2 196.11H472Z"/>
<path d="M479.3 192.94L480.9 195.71H477.7Z"/>
<path d="M473.6 195.34L475.2 198.11H472Z"/>
<path d="M481.4 195.34L483 198.11H479.8Z"/>
<path d="M477.5 197.54L479.1 200.31H475.9Z"/>
<path d="M473.6 200.54L475.2 203.31H472Z"/>
<path d="M477.5 201.54L479.1 204.31H475.9Z"/>
<path d="M481.4 200.54L483 203.31H479.8Z"/>
<circle cx="502.4" cy="196" r="1.3"/>
<circle cx="502.2" cy="199.4" r="1.3"/>
<circle cx="503.4" cy="200.8" r="1.3"/>
<circle cx="496.3" cy="202.6" r="1.3"/>
<circle cx="499.5" cy="203.2" r="1.3"/>
<circle cx="502.3" cy="203.5" r="1.3"/>
<circle cx="503.8" cy="202.8" r="1.3"/>
<circle cx="506.4" cy="203.3" r="1.3"/>
<circle cx="508.8" cy="202.7" r="1.3"/>
<circle cx="497.8" cy="203" r="1.3"/>
</svg>
</body></html>
